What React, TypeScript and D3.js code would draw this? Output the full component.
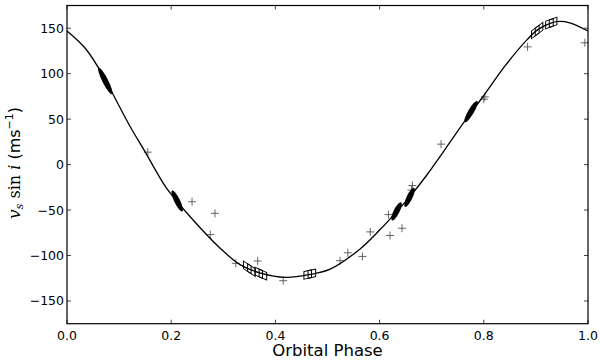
import React from "react";
import * as d3 from "d3";

// Model curve
const curvePhase = [0.0, 0.035, 0.063, 0.084, 0.12, 0.15, 0.19, 0.239, 0.294, 0.332, 0.37, 0.42, 0.465, 0.505, 0.562, 0.6, 0.626, 0.657, 0.69, 0.726, 0.76, 0.8, 0.84, 0.884, 0.905, 0.93, 0.945, 0.965, 1.0];
const curveV = [147, 128, 104, 82, 43, 14, -25, -59, -92, -110, -119, -124, -121, -115, -93, -72, -56, -36, -12, 17, 45, 76, 108, 138, 149, 156, 157.5, 156, 147];

// "+" observations
const plusPhase = [0.155, 0.24, 0.284, 0.275, 0.324, 0.366, 0.415, 0.524, 0.539, 0.567, 0.582, 0.62, 0.617, 0.643, 0.663, 0.661, 0.718, 0.802, 0.8, 0.884, 0.994];
const plusV = [13.7, -40.8, -53.6, -77, -108.6, -106, -127.7, -105.7, -97, -101, -74, -78, -55, -70, -23, -28, 22.5, 74.5, 72, 129.5, 134];

// dense clusters (drawn as filled blobs): start/end
const blobStartPhase = [0.062, 0.203, 0.625, 0.65, 0.765];
const blobStartV = [105, -30, -60, -45, 48];
const blobEndPhase = [0.085, 0.22, 0.64, 0.665, 0.786];
const blobEndV = [79, -50, -43, -27, 68.5];

// square-marker observations
const sqPhase = [0.346, 0.354, 0.368, 0.376, 0.462, 0.47, 0.899, 0.906, 0.926, 0.933];
const sqV = [-113, -116, -119, -121, -121, -120, 146, 149, 155, 156.5];

const xTicks = [0, 0.2, 0.4, 0.6, 0.8, 1.0];
const yTicks = [-150, -100, -50, 0, 50, 100, 150];

export default function App() {
  const L = 67, R = 588, T = 5.5, B = 323.7;
  const x = d3.scaleLinear().domain([0, 1]).range([L, R]);
  const y = d3.scaleLinear().domain([-175, 175]).range([B, T]);
  const pts: [number, number][] = curvePhase.map((p, i) => [p, curveV[i]]);
  const line = d3.line<[number, number]>().x(d => x(d[0])).y(d => y(d[1])).curve(d3.curveCatmullRom.alpha(0.5));
  const tickColor = "#444";
  const font = "'DejaVu Sans', sans-serif";
  return (
    <svg width={600} height={360} style={{ position: "absolute", left: 0, top: 0, background: "#fff" }}>
      <rect x={0} y={0} width={600} height={360} fill="#fff" />
      {/* observations + */}
      {plusPhase.map((p, i) => {
        const cx = x(p), cy = y(plusV[i]);
        return (
          <g key={"p" + i} stroke="#555" strokeWidth={0.9}>
            <line x1={cx - 4} x2={cx + 4} y1={cy} y2={cy} />
            <line x1={cx} x2={cx} y1={cy - 4} y2={cy + 4} />
          </g>
        );
      })}
      {/* curve */}
      <path d={line(pts) || ""} fill="none" stroke="#000" strokeWidth={1.3} />
      {/* blobs */}
      {blobStartPhase.map((p, i) => {
        const x1 = x(p), y1 = y(blobStartV[i]), x2 = x(blobEndPhase[i]), y2 = y(blobEndV[i]);
        const cx = (x1 + x2) / 2, cy = (y1 + y2) / 2;
        const len = Math.hypot(x2 - x1, y2 - y1);
        const ang = (Math.atan2(y2 - y1, x2 - x1) * 180) / Math.PI;
        return <ellipse key={"b" + i} cx={cx} cy={cy} rx={len / 2 + 1.5} ry={2.9} fill="#000" transform={`rotate(${ang} ${cx} ${cy})`} />;
      })}
      {/* squares, sheared along curve */}
      {sqPhase.map((p, i) => {
        const j = i % 2 === 0 ? i + 1 : i - 1;
        const a = i % 2 === 0 ? i : j, b = i % 2 === 0 ? j : i;
        const ang = (Math.atan2(y(sqV[b]) - y(sqV[a]), x(sqPhase[b]) - x(sqPhase[a])) * 180) / Math.PI;
        const cx = x(p), cy = y(sqV[i]);
        return (
          <g key={"s" + i} transform={`translate(${cx},${cy}) skewY(${ang})`}>
            <rect x={-3.8} y={-3.8} width={7.6} height={7.6} fill="none" stroke="#000" strokeWidth={1} />
          </g>
        );
      })}
      {/* ticks */}
      {xTicks.map((t, i) => (
        <g key={"xt" + i} stroke={tickColor} strokeWidth={1}>
          <line x1={x(t)} x2={x(t)} y1={B} y2={B - 4} />
          <line x1={x(t)} x2={x(t)} y1={T} y2={T + 4} />
        </g>
      ))}
      {yTicks.map((t, i) => (
        <g key={"yt" + i} stroke={tickColor} strokeWidth={1}>
          <line x1={L} x2={L + 4} y1={y(t)} y2={y(t)} />
          <line x1={R} x2={R - 4} y1={y(t)} y2={y(t)} />
        </g>
      ))}
      {/* frame */}
      <rect x={L} y={T} width={R - L} height={B - T} fill="none" stroke="#000" strokeWidth={1.2} />
      {/* tick labels */}
      {xTicks.map((t, i) => (
        <text key={"xl" + i} x={x(t)} y={340} textAnchor="middle" fontFamily={font} fontSize={12.5} fill="#000">
          {t.toFixed(1)}
        </text>
      ))}
      {yTicks.map((t, i) => (
        <text key={"yl" + i} x={64} y={y(t) + 4.5} textAnchor="end" fontFamily={font} fontSize={12.5} fill="#000">
          {t < 0 ? "\u2212" + Math.abs(t) : String(t)}
        </text>
      ))}
      <text x={(L + R) / 2} y={356} textAnchor="middle" fontFamily={font} fontSize={16.5} fill="#000">
        Orbital Phase
      </text>
      <text transform={`translate(20,163) rotate(-90)`} textAnchor="middle" fill="#000" fontSize={16}>
        <tspan fontFamily="'DejaVu Serif', serif" fontStyle="italic" fontSize={17}>v</tspan>
        <tspan fontFamily="'DejaVu Serif', serif" fontStyle="italic" fontSize={11.5} dy={3}>s</tspan>
        <tspan fontFamily="'DejaVu Serif', serif" fontSize={16} dy={-3}>{" sin "}</tspan>
        <tspan fontFamily="'DejaVu Serif', serif" fontStyle="italic" fontSize={16}>i</tspan>
        <tspan fontFamily={font} fontSize={16}>{"  (ms"}</tspan>
        <tspan fontFamily={font} fontSize={11} dy={-7}>{"\u22121"}</tspan>
        <tspan fontFamily={font} fontSize={16} dy={7}>)</tspan>
      </text>
    </svg>
  );
}
